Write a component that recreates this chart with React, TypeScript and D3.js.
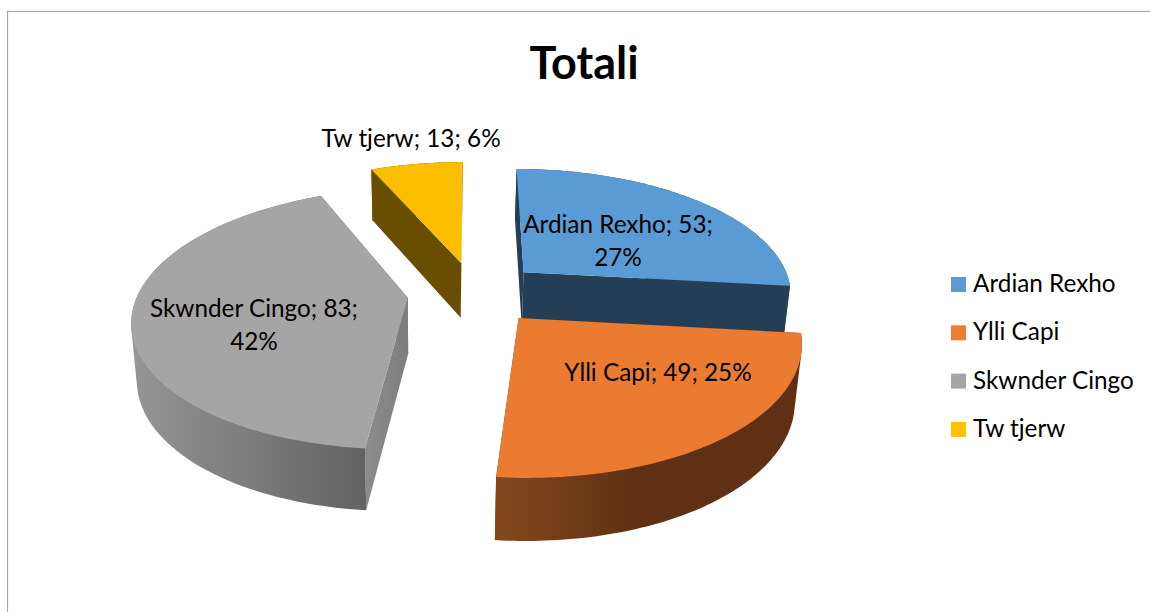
import React from "react";
import * as d3 from "d3";

const titleText = "Totali";
const names = ["Ardian Rexho", "Ylli Capi", "Skwnder Cingo", "Tw tjerw"];
const values = [53, 49, 83, 13];
const percents = [27, 25, 42, 6];
const topColors = ["#5b9bd5", "#ea7b30", "#a5a5a5", "#fbbe00"];
const legendColors = ["#5b9bd5", "#ed7d31", "#a5a5a5", "#ffc000"];
const drawOrder = [3, 0, 2, 1];

// label layout: how each label wraps and where it sits
const labelSplit = [
  { lines: (s: string) => [s.slice(0, s.lastIndexOf(" ")), s.slice(s.lastIndexOf(" ") + 1)], x: 618, y: 233 },
  { lines: (s: string) => [s], x: 658, y: 381 },
  { lines: (s: string) => [s.slice(0, s.lastIndexOf(" ")), s.slice(s.lastIndexOf(" ") + 1)], x: 254, y: 317 },
  { lines: (s: string) => [s], x: 411, y: 147 },
];

// projection of the tilted pie plane
const VP = { x: 472, y: -500 };
const CENTER = { x: 0.01, z: 6.307 };
const EXPLODE = 0.25;
const project = (X: number, Z: number): [number, number] => [VP.x + (1700 * X) / Z, VP.y + 5000 / Z];
const depthAt = d3.scaleLinear().domain([168, 476]).range([50.7, 63]);
const drop = ([u, v]: [number, number]): [number, number] => [u + (430 - u) * 0.019, v + depthAt(v)];

const pie = d3.pie<number>().sort(null).startAngle(0).endAngle(2 * Math.PI);
const arcs = pie(values);
const line = d3.line<[number, number]>();

function sliceGeometry(i: number) {
  const a = arcs[i];
  const mid = (a.startAngle + a.endAngle) / 2;
  const ox = CENTER.x + EXPLODE * Math.sin(mid);
  const oz = CENTER.z + EXPLODE * Math.cos(mid);
  const apex = project(ox, oz);
  const n = 80;
  const rim = d3.range(n + 1).map((k) => {
    const t = a.startAngle + ((a.endAngle - a.startAngle) * k) / n;
    return project(ox + Math.sin(t), oz + Math.cos(t));
  });
  return { apex, rim };
}

export default function App() {
  return (
    <svg width={1150} height={612} style={{ position: "absolute", left: 0, top: 0 }} fontFamily="Lato, Carlito, sans-serif">
      <defs>
        <linearGradient id="wall1" gradientUnits="userSpaceOnUse" x1={495} x2={800} y1={0} y2={0}>
          <stop offset="0" stopColor="#85481c" />
          <stop offset="0.47" stopColor="#5f3013" />
          <stop offset="1" stopColor="#5f3013" />
        </linearGradient>
        <linearGradient id="wall2" gradientUnits="userSpaceOnUse" x1={130} x2={367} y1={0} y2={0}>
          <stop offset="0" stopColor="#969696" />
          <stop offset="1" stopColor="#626262" />
        </linearGradient>
        <linearGradient id="cut2" gradientUnits="userSpaceOnUse" x1={365} x2={409} y1={0} y2={0}>
          <stop offset="0" stopColor="#8c8c8c" />
          <stop offset="1" stopColor="#7e7e7e" />
        </linearGradient>
      </defs>
      <rect x={7.5} y={11.5} width={1300} height={800} fill="#ffffff" stroke="#a6a6a6" strokeWidth={1.2} />
      <text x={584} y={79} textAnchor="middle" fontSize={45} fontWeight={700} fill="#000">
        {titleText}
      </text>
      {drawOrder.map((i) => {
        const { apex, rim } = sliceGeometry(i);
        const first = rim[0];
        const last = rim[rim.length - 1];
        const wallColor = ["#243f55", "url(#wall1)", "url(#wall2)", "#6a4e00"][i];
        const solidCut = ["#243f55", "#5f3013", "#7e7e7e", "#6a4e00"][i];
        const cutA = i === 2 ? "url(#cut2)" : solidCut;
        const wall = d3.polygonHull([...rim, ...rim.map(drop)]) as [number, number][];
        return (
          <g key={names[i]}>
            <path d={line([first, apex, drop(apex), drop(first)]) + "Z"} fill={cutA} />
            <path d={line([last, apex, drop(apex), drop(last)]) + "Z"} fill={solidCut} />
            <path d={line(wall) + "Z"} fill={wallColor} />
            <path d={line([apex, ...rim]) + "Z"} fill={topColors[i]} />
          </g>
        );
      })}
      {names.map((name, i) => {
        const lay = labelSplit[i];
        const text = `${name}; ${values[i]}; ${percents[i]}%`;
        return (
          <text key={name} textAnchor="middle" fontSize={24.3} fill="#000">
            {lay.lines(text).map((l, k) => (
              <tspan key={k} x={lay.x} y={lay.y + k * 33}>
                {l}
              </tspan>
            ))}
          </text>
        );
      })}
      {names.map((name, i) => (
        <g key={name} transform={`translate(951,${277 + i * 48.3})`}>
          <rect width={15} height={15} fill={legendColors[i]} />
          <text x={22} y={15} fontSize={24.3} fill="#000">
            {name}
          </text>
        </g>
      ))}
    </svg>
  );
}
